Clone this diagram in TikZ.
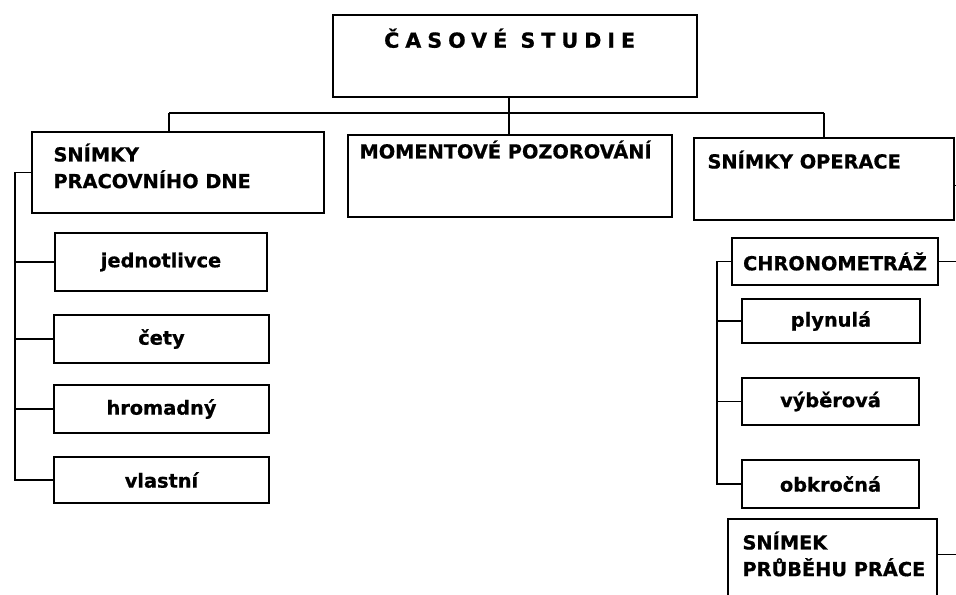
\documentclass[tikz,border=0pt]{standalone}
\usepackage{fontspec}
\setmainfont{DejaVu Sans}
\usetikzlibrary{fit}

\tikzset{
    box/.style={draw, line width=1.1pt, inner sep=0pt},
    boxfont/.style={font=\fontsize{14.5}{20}\selectfont\bfseries\addfontfeature{FakeBold=0.8}},
    leaf/.style 2 args={box, boxfont, minimum width=#1*0.75pt, minimum height=#2*0.75pt},
    headtext/.style={boxfont, align=left, anchor=north west, inner sep=0pt},
    link/.style={line width=1pt}
}

\begin{document}
\begin{tikzpicture}[x=0.75pt, y=-0.75pt]

% ============================================================
% Page frame
% ============================================================
\useasboundingbox (0,0) rectangle (956,594);
\clip (0,0) rectangle (956,594);

% ============================================================
% TOP: root box and bus
% ============================================================
\node[box, fit={(333,15) (697,97)},
      label={[font=\fontsize{15.5}{18}\selectfont\bfseries\addfontfeature{LetterSpace=29,FakeBold=0.8},
              anchor=north, inner sep=0pt, xshift=-4pt, yshift=-10.5pt]north:{ČASOVÉ STUDIE}}] (root) {};

\coordinate (busL) at (169,113);
\coordinate (busM) at (509,113);
\coordinate (busR) at (824,113);

% Main branches
\node[box, fit={(32,132) (324,213)},
      label={[headtext, xshift=16.5pt, yshift=-9pt]north west:{SNÍMKY\\PRACOVNÍHO DNE}}] (pwd) {};
\node[box, fit={(348,135) (672,217)},
      label={[headtext, xshift=9pt, yshift=-4.5pt]north west:{MOMENTOVÉ POZOROVÁNÍ}}] (mom) {};
\node[box, fit={(694,138) (954,220)},
      label={[headtext, xshift=10.5pt, yshift=-9.75pt]north west:{SNÍMKY OPERACE}}] (ops) {};

\draw[link] (busM |- root.south) -- (busM);
\draw[link] (busL) -- (busR);
\draw[link] (busL) -- (busL |- pwd.north);
\draw[link] (busM) -- (busM |- mom.north);
\draw[link] (busR) -- (busR |- ops.north);

% ============================================================
% LEFT: snímky pracovního dne
% ============================================================
\node[leaf={212}{58}] (jednotlivce) at (161,262) {jednotlivce};
\node[leaf={215}{48}] (cety) at (161.5,339) {čety};
\node[leaf={215}{48}] (hromadny) at (161.5,409) {hromadný};
\node[leaf={215}{46}] (vlastni) at (161.5,480) {vlastní};

\coordinate (ltrunk) at (15,0);
\draw[link] (pwd.west) -| (ltrunk |- vlastni.west) -- (vlastni.west);
\foreach \n in {jednotlivce, cety, hromadny} {
    \draw[link] (\n.west) -- (\n.west -| ltrunk);
}

% ============================================================
% RIGHT: snímky operace
% ============================================================
\node[leaf={206}{47}] (chrono) at (835,261.5) {CHRONOMETRÁŽ};
\node[leaf={178}{44}] (plynula) at (831,321) {plynulá};
\node[leaf={177}{47}] (vyberova) at (830.5,401.5) {výběrová};
\node[leaf={177}{48}] (obkrocna) at (830.5,484) {obkročná};
\node[box, fit={(728,519) (937,640)},
      label={[headtext, xshift=11.25pt, yshift=-9.75pt]north west:{SNÍMEK\\PRŮBĚHU PRÁCE}}] (snimek) {};

\coordinate (rtrunk) at (717,0);
\draw[link] (chrono.west) -| (rtrunk |- obkrocna.west) -- (obkrocna.west);
\foreach \n in {plynula, vyberova} {
    \draw[link] (\n.west) -- (\n.west -| rtrunk);
}

% Stubs leaving the page
\draw[link] (chrono.east) -- ++(30,0);
\draw[link] ([yshift=-5pt]ops.east) -- ++(30,0);
\draw[link] ([yshift=-27pt]snimek.north east) -- ++(30,0);

\end{tikzpicture}
\end{document}
